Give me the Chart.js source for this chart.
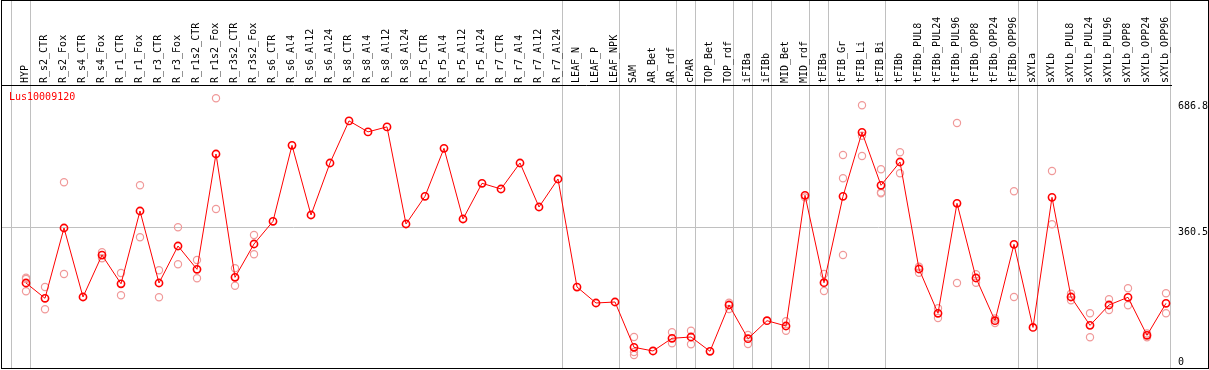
<!DOCTYPE html>
<html><head><meta charset="utf-8">
<script src="https://cdn.jsdelivr.net/npm/chart.js@4.4.0/dist/chart.umd.min.js"></script>
<style>html,body{margin:0;padding:0;background:#fff;overflow:hidden}#wrap{width:1209px;height:370px}</style>
</head><body><div id="wrap"><canvas id="c" width="1209" height="370"></canvas></div>
<script>
const geneName = 'Lus10009120';
const categories = ['HYP','R_s2_CTR','R_s2_Fox','R_s4_CTR','R_s4_Fox','R_r1_CTR','R_r1_Fox','R_r3_CTR','R_r3_Fox','R_r1s2_CTR','R_r1s2_Fox','R_r3s2_CTR','R_r3s2_Fox','R_s6_CTR','R_s6_Al4','R_s6_Al12','R_s6_Al24','R_s8_CTR','R_s8_Al4','R_s8_Al12','R_s8_Al24','R_r5_CTR','R_r5_Al4','R_r5_Al12','R_r5_Al24','R_r7_CTR','R_r7_Al4','R_r7_Al12','R_r7_Al24','LEAF_N','LEAF_P','LEAF_NPK','SAM','AR_Bet','AR_rdf','cPAR','TOP_Bet','TOP_rdf','iFIBa','iFIBb','MID_Bet','MID_rdf','tFIBa','tFIB_Gr','tFIB_Li','tFIB_Bi','tFIBb','tFIBb_PUL8','tFIBb_PUL24','tFIBb_PUL96','tFIBb_OPP8','tFIBb_OPP24','tFIBb_OPP96','sXYLa','sXYLb','sXYLb_PUL8','sXYLb_PUL24','sXYLb_PUL96','sXYLb_OPP8','sXYLb_OPP24','sXYLb_OPP96'];
// index of the last category of each group (-1 = before the first group)
const groupEnds = [-1,0,28,31,34,35,37,38,39,41,42,45,52,53,60];
const meanValues = [217.4,177.6,360.4,181.0,290.0,215.3,404.6,217.4,313.6,253.0,552.8,232.2,318.8,377.8,575.4,394.2,529.4,638.9,610.3,623.3,370.8,442.8,567.6,383.8,476.6,461.8,529.4,415.0,487.8,206.9,165.4,168.0,50.2,40.6,73.6,77.0,39.8,160.2,72.5,119.3,105.6,445.4,218.1,442.8,609.2,471.4,532.0,253.8,138.6,424.6,230.4,119.3,318.0,101.8,440.2,181.0,107.2,160.2,180.2,81.4,164.6];
const rep1 = [231.2,206.8,479.2,null,297.2,243.4,471.4,250.4,362.2,277.2,697.6,255.6,342.2,null,null,null,null,null,null,null,null,null,null,null,null,null,null,null,null,null,null,null,77.0,null,89.2,93.3,null,166.1,82.2,null,117.8,440.0,240.8,550.2,679.4,513.0,557.2,259.8,151.6,633.4,240.0,113.4,455.8,null,508.6,189.5,138.6,175.0,203.6,76.2,190.6];
const rep2 = [227.8,149.2,240.8,null,281.6,185.4,336.2,180.2,266.0,229.6,409.8,210.3,292.0,null,null,null,null,null,null,null,null,null,null,null,null,null,null,null,null,null,null,null,38.0,null,60.6,58.0,null,149.8,58.8,null,93.3,null,196.6,489.6,600.4,450.6,502.6,244.1,126.4,217.4,218.1,125.0,181.0,null,370.0,172.4,76.2,147.2,159.4,86.0,138.6];
const rep3 = [195.8,null,null,null,null,null,null,null,null,null,null,null,null,null,null,null,null,null,null,null,null,null,null,null,null,null,null,null,null,null,null,null,30.2,null,null,null,null,null,null,null,null,null,null,290.2,547.6,453.0,null,null,null,null,null,null,null,null,null,null,null,null,null,null,null];
const yTickValues = [0, 360.5, 686.8];

const FONT = 'DejaVu Sans Mono';
const meanPoints = meanValues.map((v, i) => ({x: i, y: v}));
const repPoints = [];
[rep1, rep2, rep3].forEach(arr => arr.forEach((v, i) => { if (v !== null) repPoints.push({x: i, y: v}); }));
const isSep = t => t && !Number.isInteger(t.value);

const framePlugin = {
  id: 'frame',
  afterDatasetsDraw(chart) {
    const ctx = chart.ctx, a = chart.chartArea;
    ctx.save();
    ctx.fillStyle = '#ff0000';
    ctx.font = '10px "' + FONT + '"';
    ctx.textAlign = 'left';
    ctx.textBaseline = 'middle';
    ctx.fillText(geneName, a.left + 8, a.top + 12);
    ctx.restore();
  },
  afterDraw(chart) {
    const ctx = chart.ctx;
    ctx.save();
    ctx.strokeStyle = '#000';
    ctx.lineWidth = 1;
    ctx.strokeRect(1.5, 0.5, chart.width - 2, chart.chartArea.bottom);
    ctx.restore();
  }
};

new Chart(document.getElementById('c'), {
  data: {
    datasets: [
      {type: 'line', label: geneName, data: meanPoints, borderColor: '#ff0000', borderWidth: 1, tension: 0,
       pointStyle: 'circle', pointRadius: 3.6, pointBorderWidth: 1.6, pointBorderColor: '#ff0000',
       pointBackgroundColor: 'rgba(0,0,0,0)', fill: false},
      {type: 'scatter', label: 'replicates', data: repPoints, showLine: false,
       pointStyle: 'circle', pointRadius: 3.6, pointBorderWidth: 1.2, pointBorderColor: '#f09999',
       pointBackgroundColor: 'rgba(0,0,0,0)'}
    ]
  },
  options: {
    responsive: false, animation: false,
    layout: {autoPadding: false, padding: {left: 1, right: 0, top: 0, bottom: 2}},
    plugins: {legend: {display: false}, tooltip: {enabled: false}, title: {display: false}},
    scales: {
      x: {
        type: 'linear', position: 'top', min: -1.316, max: 60.263, bounds: 'data',
        afterBuildTicks: s => {
          const t = categories.map((c, i) => ({value: i}));
          groupEnds.forEach(g => t.push({value: g + 0.24}));
          t.sort((a, b) => a.value - b.value);
          s.ticks = t;
        },
        afterFit: s => { s.height = 85; s.paddingLeft = 0; s.paddingRight = 0; s.paddingTop = 0; s.paddingBottom = 0; },
        grid: {
          color: c => isSep(c.tick) ? '#c0c0c0' : 'rgba(0,0,0,0)',
          tickColor: c => isSep(c.tick) ? '#c0c0c0' : 'rgba(0,0,0,0)',
          tickLength: 85, lineWidth: 1, drawOnChartArea: true, drawTicks: true
        },
        border: {display: true, color: '#000', width: 1},
        ticks: {
          autoSkip: false, minRotation: 90, maxRotation: 90, padding: -83, labelOffset: 11, color: '#000',
          font: {family: FONT, size: 10},
          callback: v => Number.isInteger(v) ? categories[v] : ''
        }
      },
      y: {
        type: 'linear', position: 'right', min: -3.64, max: 732.2, bounds: 'data',
        afterBuildTicks: s => { s.ticks = yTickValues.map(v => ({value: v})); },
        afterFit: s => { s.width = 38; s.paddingLeft = 0; s.paddingRight = 0; s.paddingTop = 0; s.paddingBottom = 0; },
        grid: {
          color: c => (c.index > 0 && c.index < yTickValues.length - 1) ? '#c0c0c0' : 'rgba(0,0,0,0)',
          drawTicks: false, lineWidth: 1
        },
        border: {display: false},
        ticks: {
          padding: 7, color: '#000', font: {family: FONT, size: 10, lineHeight: 0.85},
          callback: v => v === 0 ? ['0', ''] : ['', String(v)]
        }
      }
    }
  },
  plugins: [framePlugin]
});
</script></body></html>
